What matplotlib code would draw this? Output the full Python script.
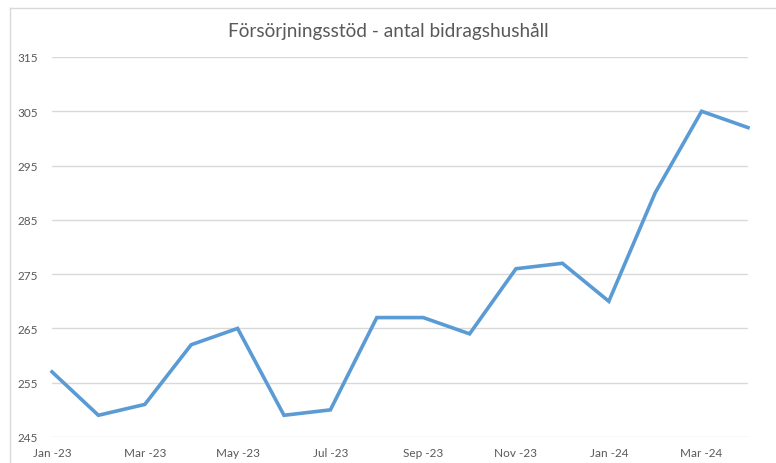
import numpy as np
import matplotlib.pyplot as plt
from matplotlib.lines import Line2D

months = ["Jan -23", "Feb -23", "Mar -23", "Apr -23", "May -23", "Jun -23",
          "Jul -23", "Aug -23", "Sep -23", "Oct -23", "Nov -23", "Dec -23",
          "Jan -24", "Feb -24", "Mar -24", "Apr -24"]
values = [257, 249, 251, 262, 265, 249, 250, 267, 267, 264, 276, 277,
          270, 290, 305, 302]
yticks = [245, 255, 265, 275, 285, 295, 305, 315]

plt.rcParams['font.family'] = ['Lato', 'DejaVu Sans']

fig = plt.figure(figsize=(7.76, 4.64), dpi=100)
ax = fig.add_axes([52/776, 1 - 438/464, (748 - 52)/776, (438 - 58)/464])

x = np.arange(len(values))
ax.plot(x, values, color="#5B9BD5", lw=2.6, solid_joinstyle="miter", clip_on=False)

ax.set_xlim(0, len(values) - 1)
ax.set_ylim(245, 315)
ax.set_yticks(yticks)
ax.set_xticks(x[::2])
ax.set_xticklabels(months[::2])
ax.tick_params(axis="both", length=0, labelsize=8.5, colors="#595959")
ax.tick_params(axis="y", pad=10)
ax.tick_params(axis="x", pad=7)
ax.grid(axis="y", color="#D9D9D9", lw=1)
ax.set_axisbelow(True)
for s in ax.spines.values():
    s.set_visible(False)

fig.text(0.5, 1 - 31/464, "Försörjningsstöd - antal bidragshushåll",
         ha="center", va="center", fontsize=13.7, color="#595959")

# outer chart border
fig.add_artist(Line2D([10/776, 10/776], [0, 1 - 9/464], color="#D9D9D9", lw=1))
fig.add_artist(Line2D([10/776, 1], [1 - 9/464, 1 - 9/464], color="#D9D9D9", lw=1))

fig.savefig("out.png", dpi=100)
